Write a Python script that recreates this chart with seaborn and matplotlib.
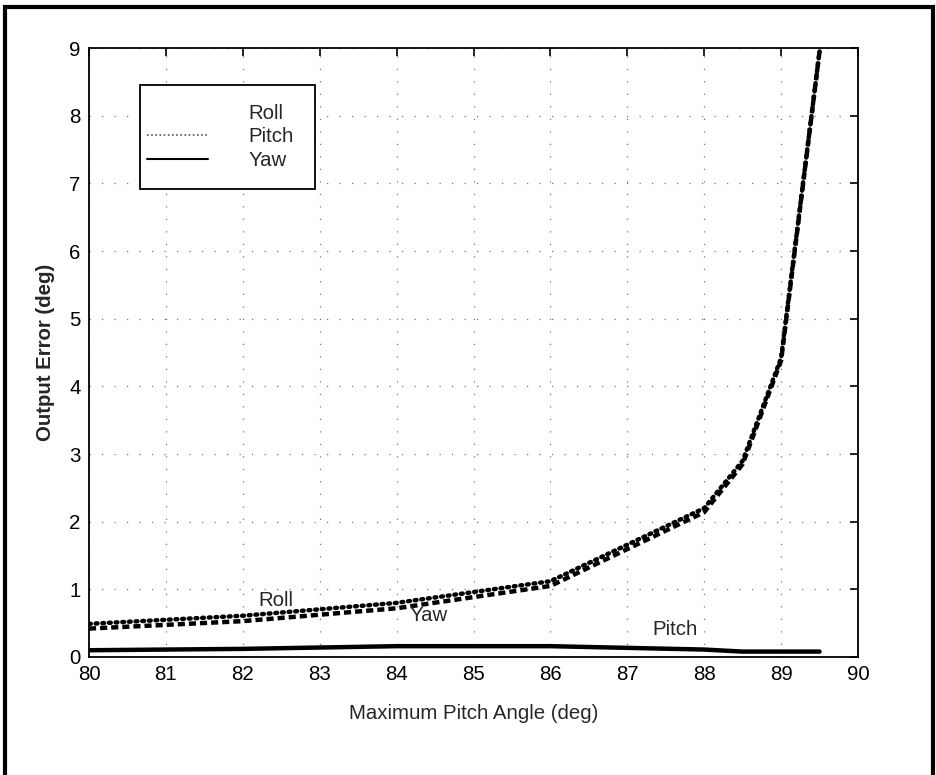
import matplotlib
matplotlib.use("Agg")
import matplotlib.pyplot as plt
from matplotlib.lines import Line2D
from matplotlib.patches import Rectangle
import seaborn as sns
import pandas as pd

# ---- data ----
pitch_angle = [80, 82, 84, 86, 88, 88.5, 89, 89.5]
roll_err    = [0.49, 0.61, 0.80, 1.12, 2.20, 2.90, 4.42, 8.95]
yaw_err     = [0.42, 0.53, 0.72, 1.05, 2.14, 2.85, 4.38, 8.95]
pitch_err   = [0.10, 0.12, 0.16, 0.16, 0.11, 0.08, 0.08, 0.08]

x_ticks = [80, 81, 82, 83, 84, 85, 86, 87, 88, 89, 90]
y_ticks = [0, 1, 2, 3, 4, 5, 6, 7, 8, 9]

sns.set_theme(style="white")
plt.rcParams['font.family'] = ['Liberation Sans', 'DejaVu Sans']

FS = 14.7

fig = plt.figure(figsize=(9.36, 7.75), dpi=100)
ax = fig.add_axes([89/936, 1-657/775, (858-89)/936, (657-48)/775])

df = pd.DataFrame({"x": pitch_angle, "Roll": roll_err, "Yaw": yaw_err, "Pitch": pitch_err})

sns.lineplot(data=df, x="x", y="Roll", ax=ax, color="black", lw=3.2,
             linestyle=(0, (0.4, 1.1)), dash_capstyle="round", sort=False)
sns.lineplot(data=df, x="x", y="Yaw", ax=ax, color="black", lw=3.2,
             linestyle=(0, (1.6, 0.9)), sort=False)
sns.lineplot(data=df, x="x", y="Pitch", ax=ax, color="black", lw=3.2,
             linestyle="-", sort=False)

ax.set_xlim(80, 90)
ax.set_ylim(0, 9)
ax.set_xticks(x_ticks)
ax.set_yticks(y_ticks)
ax.set_xticklabels([str(t) for t in x_ticks], fontsize=FS)
ax.set_yticklabels([str(t) for t in y_ticks], fontsize=FS)
ax.tick_params(direction="in", length=6, width=1.2, top=True, right=True,
               colors="black", pad=6)
for s in ax.spines.values():
    s.set_visible(True)
    s.set_color("black")
    s.set_linewidth(1.3)

ax.grid(True, color="#777777", linestyle=(0, (1, 9)), linewidth=0.9)

ax.set_xlabel("Maximum Pitch Angle (deg)", fontsize=FS, labelpad=14)
ax.set_ylabel("Output Error (deg)", fontsize=FS, fontweight="bold", labelpad=10)

# in-plot labels
ax.text(82.2, 0.84, "Roll", fontsize=FS, va="center", ha="left")
ax.text(84.17, 0.62, "Yaw", fontsize=FS, va="center", ha="left")
ax.text(87.32, 0.40, "Pitch", fontsize=FS, va="center", ha="left")

# legend (as it appears in the picture)
handles = [
    Line2D([], [], color="white", lw=0),
    Line2D([], [], color="#555555", lw=1.2, linestyle=(0, (1, 1.5))),
    Line2D([], [], color="black", lw=1.5, linestyle="-"),
]
leg = ax.legend(handles, ["Roll", "Pitch", "Yaw"], loc="upper left",
                bbox_to_anchor=((147-89)/769, (657-104)/609), fontsize=FS,
                frameon=False, handlelength=3.0, handletextpad=1.95,
                borderpad=0, labelspacing=0.22, borderaxespad=0)
ax.add_patch(Rectangle(((140-89)/769, (657-189)/609), (315-140)/769, (189-85)/609,
                       transform=ax.transAxes, fill=True, facecolor="white",
                       edgecolor="black", linewidth=1.3, zorder=4))
leg.set_zorder(5)

# figure border
fig.add_artist(Rectangle((5/936, -0.05), (933-5)/936, 1.05 - 7/775,
                         transform=fig.transFigure, fill=False,
                         edgecolor="black", linewidth=3, clip_on=False))

fig.savefig("out.png", dpi=100, facecolor="white")
